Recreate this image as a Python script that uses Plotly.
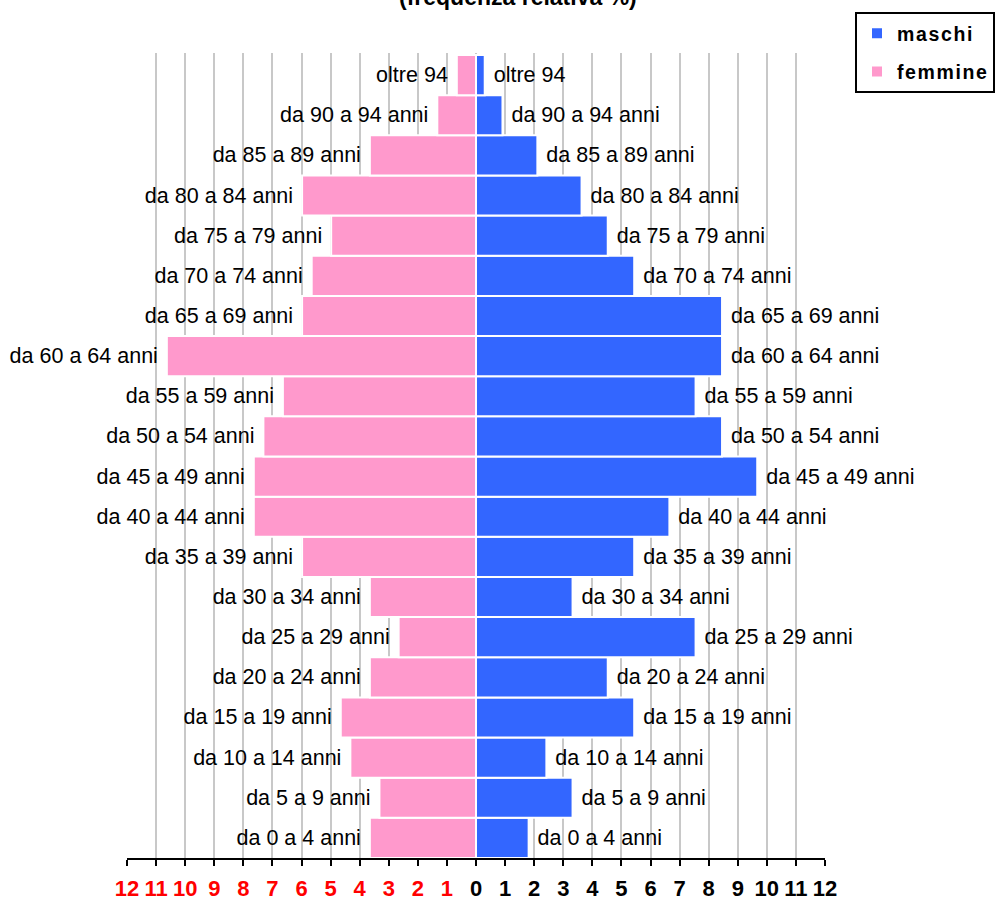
import plotly.graph_objects as go

categories = [
    "da 0 a 4 anni", "da 5 a 9 anni", "da 10 a 14 anni", "da 15 a 19 anni",
    "da 20 a 24 anni", "da 25 a 29 anni", "da 30 a 34 anni", "da 35 a 39 anni",
    "da 40 a 44 anni", "da 45 a 49 anni", "da 50 a 54 anni", "da 55 a 59 anni",
    "da 60 a 64 anni", "da 65 a 69 anni", "da 70 a 74 anni", "da 75 a 79 anni",
    "da 80 a 84 anni", "da 85 a 89 anni", "da 90 a 94 anni", "oltre 94",
]

maschi = [1.81, 3.32, 2.42, 5.44, 4.53, 7.55, 3.32, 5.44, 6.65, 9.67,
          8.46, 7.55, 8.46, 8.46, 5.44, 4.53, 3.63, 2.11, 0.91, 0.30]

femmine = [3.65, 3.32, 4.32, 4.65, 3.65, 2.66, 3.65, 5.98, 7.64, 7.64,
           7.31, 6.64, 10.63, 5.98, 5.65, 4.98, 5.98, 3.65, 1.33, 0.66]

tick_values = list(range(-12, 13))
tick_labels = [str(abs(v)) for v in tick_values]

FONT = "Liberation Sans, Arial, Helvetica, sans-serif"
BLUE = "#3366FF"
PINK = "#FF99CC"
NB = "\u00a0"
HS = "\u200a"

ticktext = []
for v, lab in zip(tick_values, tick_labels):
    col = "#FF0000" if v < 0 else "#000000"
    ticktext.append(f'<span style="color:{col}"><b>{lab}</b></span>')

fig = go.Figure()

fig.add_trace(go.Bar(
    name=HS.join("maschi"),
    y=categories,
    x=maschi,
    orientation="h",
    width=1,
    marker=dict(color=BLUE, line=dict(color="white", width=2)),
    text=[NB + c for c in categories],
    textposition="outside",
    textfont=dict(family=FONT, size=21.5, color="black"),
    constraintext="none",
    cliponaxis=False,
    legendgroup="m",
    hoverinfo="skip",
))

fig.add_trace(go.Bar(
    name=HS.join("femmine"),
    y=categories,
    x=[-v for v in femmine],
    orientation="h",
    width=1,
    marker=dict(color=PINK, line=dict(color="white", width=2)),
    text=[c + NB for c in categories],
    textposition="outside",
    textfont=dict(family=FONT, size=21.5, color="black"),
    constraintext="none",
    cliponaxis=False,
    legendgroup="f",
    hoverinfo="skip",
))

fig.update_layout(
    width=995,
    height=900,
    barmode="overlay",
    paper_bgcolor="white",
    plot_bgcolor="white",
    margin=dict(l=127, r=170, t=53, b=42, autoexpand=False),
    font=dict(family=FONT, color="black"),
    showlegend=True,
    legend=dict(
        xref="container", yref="container",
        x=855 / 995, y=1 - 12 / 900, xanchor="left", yanchor="top",
        bordercolor="black", borderwidth=2,
        font=dict(family=FONT, size=19.5, color="black", weight="bold"),
        traceorder="grouped",
        tracegroupgap=10,
        itemwidth=30,
    ),
    xaxis=dict(
        range=[-12, 12],
        tickmode="array",
        tickvals=tick_values,
        ticktext=ticktext,
        tickfont=dict(family=FONT, size=22, color="black"),
        ticks="outside",
        ticklen=6,
        tickwidth=2,
        tickcolor="black",
        ticklabelstandoff=4,
        showline=True,
        linecolor="black",
        linewidth=2,
        showgrid=True,
        gridcolor="#C8C8C8",
        gridwidth=2,
        zeroline=False,
        fixedrange=True,
    ),
    yaxis=dict(
        type="category",
        categoryorder="array",
        categoryarray=categories,
        range=[-0.5, 19.55],
        showticklabels=False,
        showgrid=False,
        zeroline=False,
        showline=False,
        ticks="",
        fixedrange=True,
    ),
    annotations=[dict(
        text="<b>(frequenza relativa %)</b>",
        xref="paper", yref="paper",
        x=(518 - 127) / 698, y=1 + (53 - 12) / 805,
        xanchor="center", yanchor="bottom",
        showarrow=False,
        font=dict(family=FONT, size=23, color="black"),
    )],
)

fig.write_html(
    "out.html",
    config={"displayModeBar": False},
    post_script="document.body.style.margin='0';",
)
